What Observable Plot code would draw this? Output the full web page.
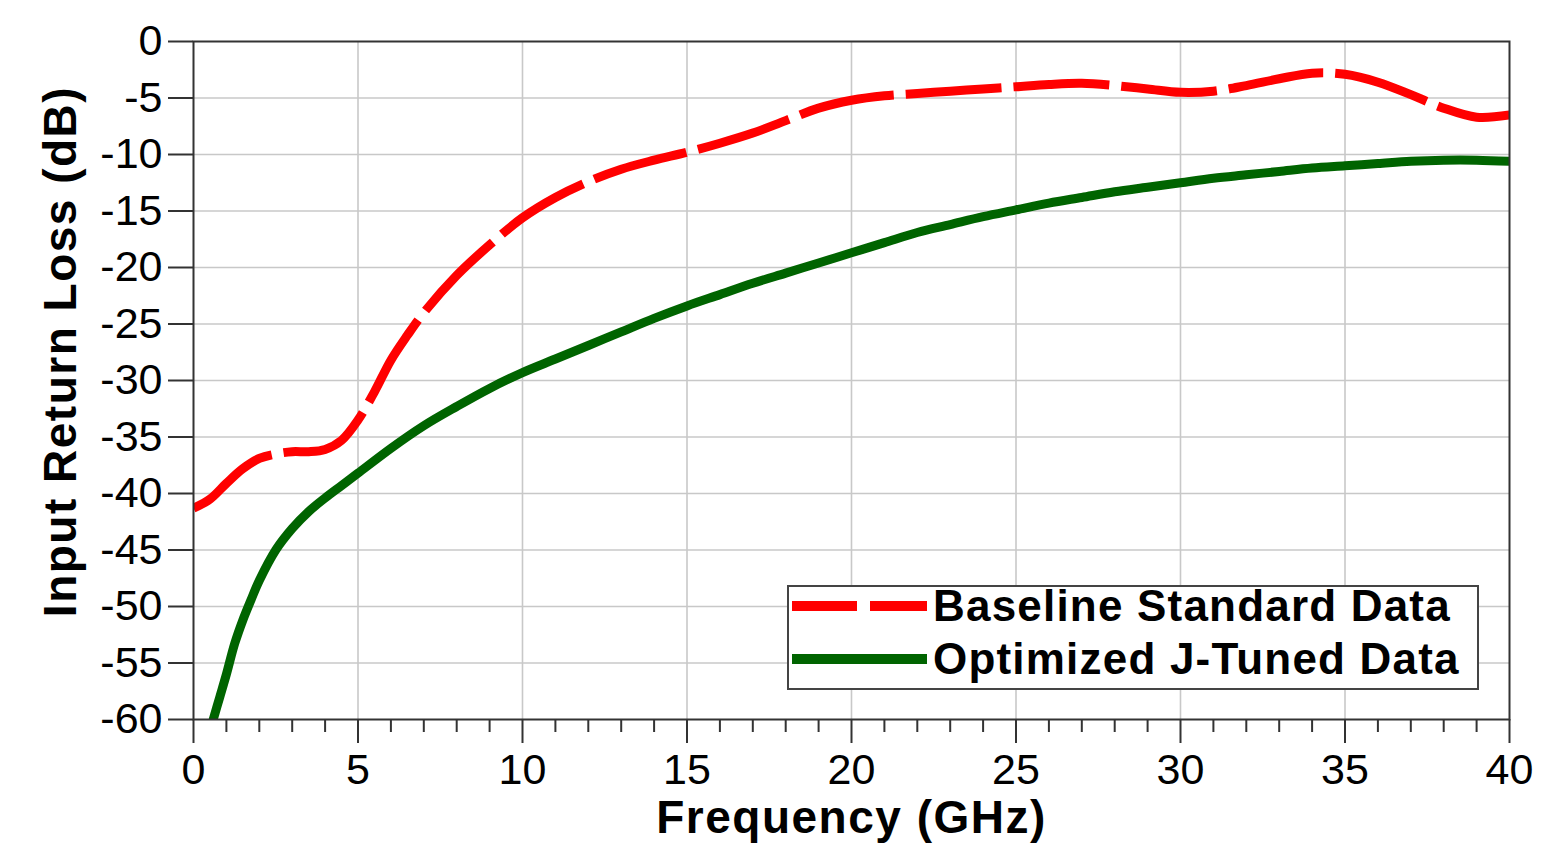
<!DOCTYPE html>
<html>
<head>
<meta charset="utf-8">
<script src="https://cdn.jsdelivr.net/npm/d3@7"></script>
<script src="https://cdn.jsdelivr.net/npm/@observablehq/plot@0.6"></script>
<style>
  html, body { margin: 0; padding: 0; background: #fff; }
  #wrap { position: relative; width: 1568px; height: 844px; }
  #legend {
    position: absolute; left: 787px; top: 585px; width: 688px; height: 101px;
    border: 2px solid #444; background: #fff; box-sizing: content-box;
    font-family: "Liberation Sans", Arial, sans-serif; font-weight: bold; font-size: 44px;
    letter-spacing: 1.2px; color: #000;
  }
  .row { position: absolute; left: 0; height: 50px; display: flex; align-items: center; }
  .row svg { margin-left: 3px; margin-right: 6px; }
</style>
</head>
<body>
<div id="wrap"><div id="legend"></div></div>
<script>
// ---- data ----
const freqBaseline = [0, 0.5, 1, 1.5, 2, 2.5, 3, 3.5, 4, 4.5, 5, 5.5, 6, 6.5, 7, 8, 9, 10, 11, 12, 13, 14, 15, 16, 17, 18, 19, 20, 21, 22, 23, 24, 25, 26, 27, 28, 29, 30, 31, 32, 33, 34, 35, 36, 37, 38, 39, 40];
const baselineDb = [-41.3, -40.5, -39.1, -37.8, -36.9, -36.5, -36.3, -36.3, -36.1, -35.3, -33.5, -31.0, -28.2, -26.0, -24.0, -20.7, -18.0, -15.6, -13.8, -12.4, -11.3, -10.5, -9.8, -9.0, -8.1, -7.0, -5.9, -5.2, -4.8, -4.6, -4.4, -4.2, -4.0, -3.8, -3.7, -3.9, -4.2, -4.5, -4.4, -3.9, -3.3, -2.8, -2.9, -3.6, -4.7, -5.9, -6.7, -6.5];

const freqOptimized = [0.6, 0.8, 1.0, 1.25, 1.5, 1.75, 2.0, 2.5, 3.0, 3.5, 4.0, 4.5, 5, 6, 7, 8, 9, 10, 11, 12, 13, 14, 15, 16, 17, 18, 19, 20, 21, 22, 23, 24, 25, 26, 27, 28, 29, 30, 31, 32, 33, 34, 35, 36, 37, 38, 39, 40];
const optimizedDb = [-60, -58, -56, -53.3, -51.2, -49.4, -47.7, -45.0, -43.1, -41.6, -40.4, -39.3, -38.2, -36.0, -34.0, -32.3, -30.7, -29.3, -28.1, -26.9, -25.7, -24.5, -23.4, -22.4, -21.4, -20.5, -19.6, -18.7, -17.8, -16.9, -16.2, -15.5, -14.9, -14.3, -13.8, -13.3, -12.9, -12.5, -12.1, -11.8, -11.5, -11.2, -11.0, -10.8, -10.6, -10.5, -10.5, -10.6];

const xTicks = [0, 5, 10, 15, 20, 25, 30, 35, 40];
const xMinorTicks = [1, 2, 3, 4, 6, 7, 8, 9, 11, 12, 13, 14, 16, 17, 18, 19, 21, 22, 23, 24, 26, 27, 28, 29, 31, 32, 33, 34, 36, 37, 38, 39];
const yTicks = [0, -5, -10, -15, -20, -25, -30, -35, -40, -45, -50, -55, -60];
const xGrid = [5, 10, 15, 20, 25, 30, 35];
const yGrid = [-5, -10, -15, -20, -25, -30, -35, -40, -45, -50, -55];

const seriesNames = ["Baseline Standard Data", "Optimized J-Tuned Data"];
const xLabel = "Frequency (GHz)";
const yLabel = "Input Return Loss (dB)";

const baseline = freqBaseline.map((f, i) => ({f, db: baselineDb[i]}));
const optimized = freqOptimized.map((f, i) => ({f, db: optimizedDb[i]}));

const RED = "#ff0000", GREEN = "#006400", DASH = "96,12";
const fmt = d => String(d); // plain hyphen-minus like the reference

const chart = Plot.plot({
  width: 1568,
  height: 844,
  marginLeft: 193,
  marginRight: 59,
  marginTop: 41,
  marginBottom: 125,
  style: {fontFamily: "'Liberation Sans', Arial, sans-serif", fontSize: "43px", color: "#000", background: "#fff"},
  x: {domain: [0, 40]},
  y: {domain: [-60, 0]},
  marks: [
    Plot.gridX(xGrid, {stroke: "#c8c8c8", strokeOpacity: 1, strokeWidth: 1.6}),
    Plot.gridY(yGrid, {stroke: "#c8c8c8", strokeOpacity: 1, strokeWidth: 1.6}),
    Plot.line(optimized, {x: "f", y: "db", stroke: GREEN, strokeWidth: 9, curve: "catmull-rom", clip: true}),
    Plot.line(baseline, {x: "f", y: "db", stroke: RED, strokeWidth: 9, strokeDasharray: DASH, strokeLinecap: "butt", curve: "catmull-rom", clip: true}),
    Plot.frame({stroke: "#333", strokeWidth: 2}),
    Plot.axisY(yTicks, {tickSize: 25, tickPadding: 6, tickFormat: fmt, stroke: "#333", strokeWidth: 2, label: null}),
    Plot.axisX(xMinorTicks, {tickSize: 13, text: null, stroke: "#333", strokeWidth: 2, label: null}),
    Plot.axisX(xTicks, {tickSize: 24, tickPadding: 10, tickFormat: fmt, stroke: "#333", strokeWidth: 2, label: null}),
    Plot.text([xLabel], {frameAnchor: "bottom", dy: 99, fontSize: 46, fontWeight: "bold", textAnchor: "middle", lineAnchor: "middle"}),
    Plot.text([yLabel], {frameAnchor: "left", rotate: -90, dx: -132, dy: -29, fontSize: 46, fontWeight: "bold", textAnchor: "middle", lineAnchor: "middle"})
  ]
});

chart.querySelectorAll("text").forEach(t => {
  if (t.textContent === xLabel || t.textContent === yLabel) t.style.letterSpacing = "1.5px";
});

const wrap = document.getElementById("wrap");
wrap.insertBefore(chart, wrap.firstChild);

// legend
const legend = document.getElementById("legend");
const legendItems = [
  {name: seriesNames[0], color: RED, dash: "65,13"},
  {name: seriesNames[1], color: GREEN, dash: null}
];
legendItems.forEach((it, i) => {
  const row = document.createElement("div");
  row.className = "row";
  row.style.top = (i === 0 ? -6 : 47) + "px";
  row.innerHTML = `<svg width="135" height="12"><line x1="0" y1="6" x2="135" y2="6" stroke="${it.color}" stroke-width="10" ${it.dash ? `stroke-dasharray="${it.dash}"` : ""}/></svg><span>${it.name}</span>`;
  legend.appendChild(row);
});
</script>
</body>
</html>
